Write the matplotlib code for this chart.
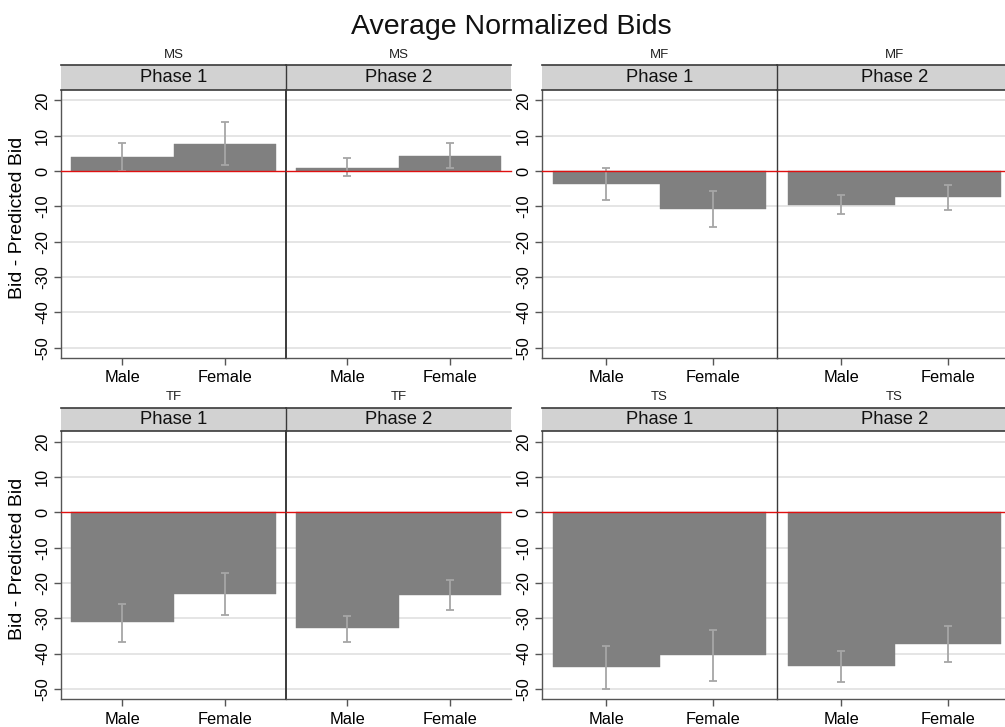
import matplotlib
matplotlib.use("Agg")
import matplotlib.pyplot as plt

plt.rcParams['font.family'] = ['Liberation Sans', 'DejaVu Sans']

groups = ['MS', 'MF', 'TF', 'TS']
phases = ['Phase 1', 'Phase 2']
sexes = ['Male', 'Female']
yticks = [-50, -40, -30, -20, -10, 0, 10, 20]

# means[group][phase] = [Male, Female]
means = {
    'MS': [[4.0, 7.6], [0.9, 4.4]],
    'MF': [[-3.7, -10.8], [-9.5, -7.4]],
    'TF': [[-31.1, -23.1], [-32.9, -23.4]],
    'TS': [[-43.9, -40.4], [-43.6, -37.2]],
}
ci_low = {
    'MS': [[0.1, 1.8], [-1.4, 1.0]],
    'MF': [[-8.2, -15.9], [-12.2, -11.0]],
    'TF': [[-36.6, -29.2], [-36.6, -27.6]],
    'TS': [[-50.0, -47.8], [-48.0, -42.4]],
}
ci_high = {
    'MS': [[7.9, 13.8], [3.7, 8.0]],
    'MF': [[0.75, -5.6], [-6.8, -3.8]],
    'TF': [[-26.0, -17.1], [-29.5, -19.2]],
    'TS': [[-37.8, -33.2], [-39.3, -32.3]],
}

W, H = 1005, 727
fig = plt.figure(figsize=(W / 100, H / 100), dpi=100)
fig.patch.set_facecolor('white')

def add_ax(x0, x1, ytop, ybot):
    return fig.add_axes([x0 / W, 1 - ybot / H, (x1 - x0) / W, (ybot - ytop) / H])

col_px = [[(61, 286), (286, 511)], [(542, 777), (777, 1012)]]
row_px = [((65.5, 89.5), (89.5, 358)), ((407.5, 431), (431, 699))]

SPINE = '#3a3a3a'
pos = [1, 2]

for gi, g in enumerate(groups):
    r, c = divmod(gi, 2)
    (st, sb), (pt, pb) = row_px[r]
    for pi, ph in enumerate(phases):
        x0, x1 = col_px[c][pi]
        ax = add_ax(x0, x1, pt, pb)
        ax.set_xlim(0.4, 2.6)
        ax.set_ylim(-52.9, 23.1)
        for yv in yticks:
            if yv != 0:
                ax.axhline(yv, color='#e3e3e3', lw=1.3, zorder=0)
        vals = means[g][pi]
        lo = ci_low[g][pi]
        hi = ci_high[g][pi]
        ax.bar(pos, vals, width=1.0, color='#808080', edgecolor='#808080',
               linewidth=0.3, zorder=2)
        yerr = [[v - l for v, l in zip(vals, lo)], [h - v for v, h in zip(vals, hi)]]
        ax.errorbar(pos, vals, yerr=yerr, fmt='none', ecolor='#a6a6a6',
                    elinewidth=1.3, capsize=3.2, capthick=1.3, zorder=3)
        ax.axhline(0, color='#e01010', lw=1.0, zorder=4, clip_on=False)
        ax.set_xticks(pos)
        ax.set_xticklabels(sexes, fontsize=11.8)
        ax.tick_params(axis='x', length=5, width=1, color='#555555', pad=4)
        ax.set_yticks(yticks)
        for s in ['top', 'right']:
            ax.spines[s].set_visible(False)
        ax.spines['bottom'].set_color('#555555')
        ax.spines['bottom'].set_linewidth(1.0)
        if pi == 0:
            ax.spines['left'].set_color('#555555')
            ax.spines['left'].set_linewidth(1.0)
            ax.set_yticklabels([str(t) for t in yticks], fontsize=11.8,
                               rotation=90, va='center')
            ax.tick_params(axis='y', length=5, width=1, color='#555555', pad=3)
        else:
            ax.spines['left'].set_color(SPINE)
            ax.spines['left'].set_linewidth(1.4 if c == 0 else 1.0)
            ax.tick_params(axis='y', left=False, labelleft=False)
        ax.set_facecolor('white')

        # strip
        sax = add_ax(x0, x1, st, sb)
        sax.set_facecolor('#d2d2d2')
        sax.set_xticks([])
        sax.set_yticks([])
        for s in ['top', 'bottom']:
            sax.spines[s].set_color(SPINE)
            sax.spines[s].set_linewidth(1.2)
        sax.spines['right'].set_visible(False)
        if pi == 0:
            sax.spines['left'].set_visible(False)
        else:
            sax.spines['left'].set_color(SPINE)
            sax.spines['left'].set_linewidth(1.0)
        sax.text(0.5, 0.5, ph, ha='center', va='center', fontsize=13.2,
                 transform=sax.transAxes, color='#111111')

        # small group label above strip
        fig.text((x0 + x1) / 2 / W, 1 - (st - 10) / H, g, ha='center',
                 va='center', fontsize=9.5, color='#222222')

    if c == 0:
        fig.text(18 / W, 1 - ((pt + pb) / 2 - 6) / H, 'Bid - Predicted Bid',
                 rotation=90, ha='center', va='center', fontsize=14)

fig.text(511 / W, 1 - 27 / H, 'Average Normalized Bids', ha='center',
         va='center', fontsize=20.5, color='#111111')

fig.savefig('out.png', dpi=100, facecolor='white')
